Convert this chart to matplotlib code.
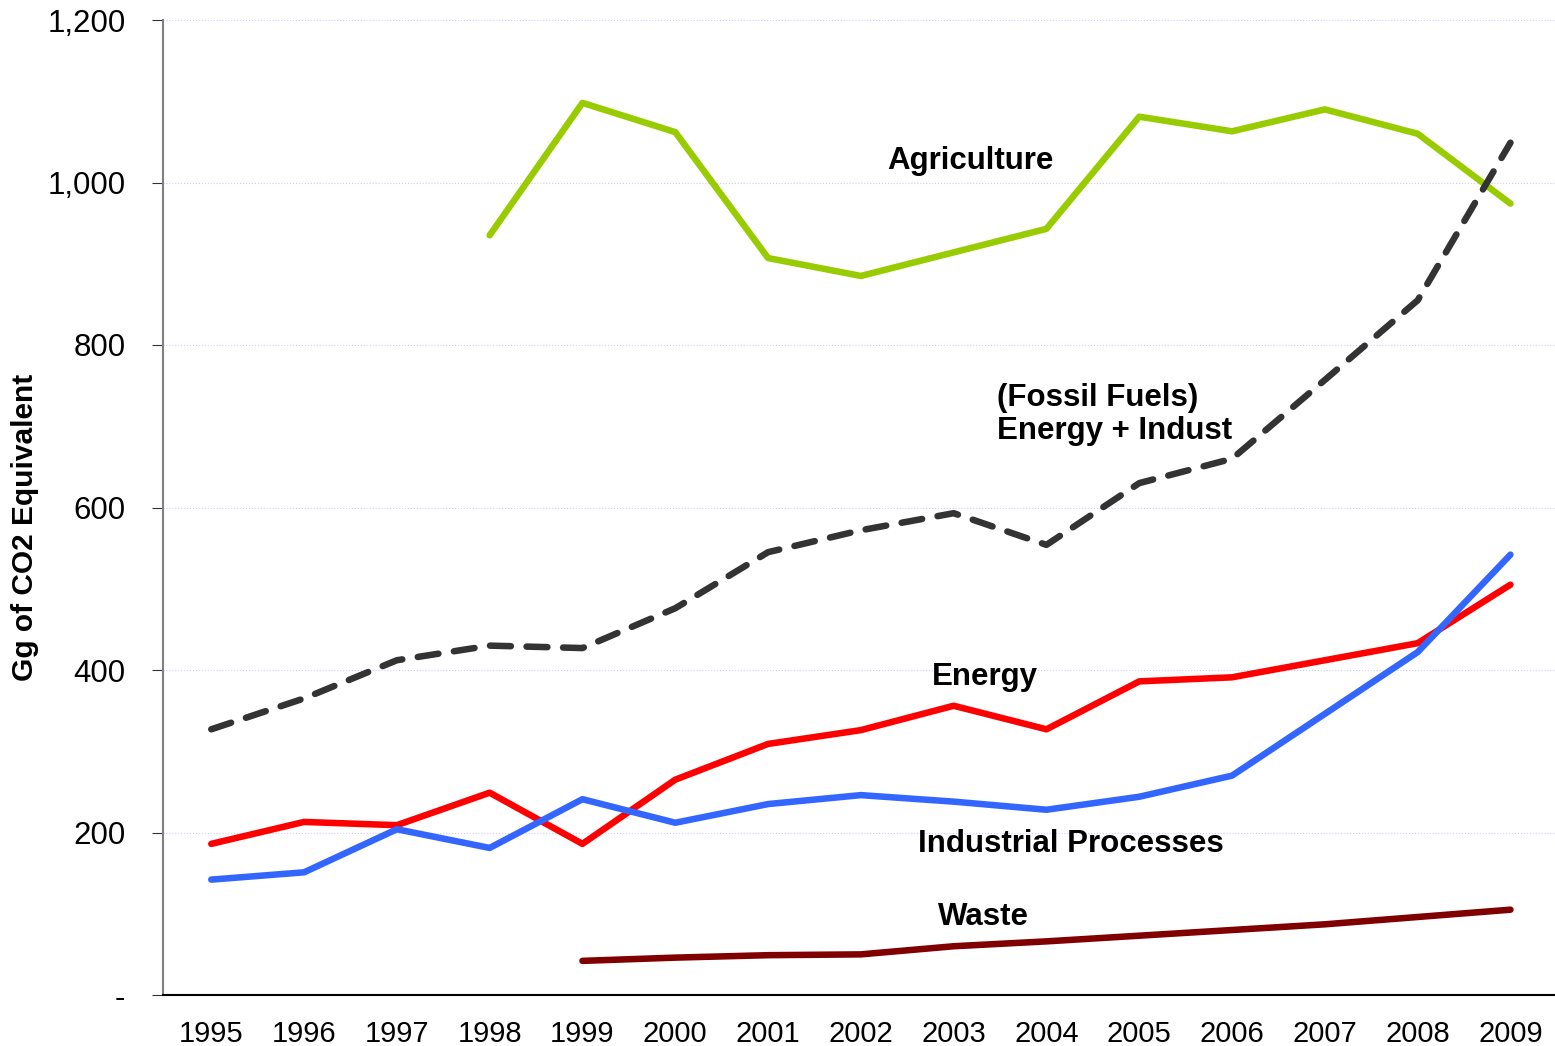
import numpy as np
import matplotlib.pyplot as plt
from matplotlib.ticker import FuncFormatter

plt.rcParams['font.family'] = ['Liberation Sans', 'DejaVu Sans']

years = list(range(1995, 2010))

agri_years = list(range(1998, 2010))
agriculture = [935, 1098, 1062, 907, 885, 914, 943, 1081, 1063, 1090, 1060, 974]

fossil = [327, 365, 412, 430, 427, 476, 545, 572, 593, 554, 630, 660, 757, 855, 1049]
energy = [186, 213, 209, 249, 186, 265, 309, 326, 356, 327, 386, 391, 412, 433, 505]
industrial = [142, 151, 204, 181, 241, 212, 235, 246, 238, 228, 244, 270, 346, 422, 542]

waste_years = list(range(1999, 2010))
waste = [42, 46, 49, 50, 60, 66, 73, 80, 87, 96, 105]

fig = plt.figure(figsize=(15.55, 10.46), dpi=100)
ax = fig.add_axes([163/1555, 1 - 995/1046, 1 - 163/1555, (995 - 20)/1046])

lw = 4.7
ax.plot(agri_years, agriculture, color='#99cc00', lw=lw, solid_capstyle='round', solid_joinstyle='round', zorder=3)
ax.plot(years, fossil, color='#333333', lw=lw, ls=(0, (3.2, 2.4)), dash_capstyle='round', zorder=3)
ax.plot(years, energy, color='#ff0000', lw=lw, solid_capstyle='round', solid_joinstyle='round', zorder=3)
ax.plot(years, industrial, color='#3366ff', lw=lw, solid_capstyle='round', solid_joinstyle='round', zorder=3)
ax.plot(waste_years, waste, color='#800000', lw=lw, solid_capstyle='round', solid_joinstyle='round', zorder=3)

ax.set_xlim(1994.48, 2009.48)
ax.set_ylim(0, 1200)
ax.set_xticks(years)
ax.set_yticks(np.arange(0, 1201, 200))
ax.yaxis.set_major_formatter(FuncFormatter(lambda v, p: '-' if v == 0 else f'{int(v):,}'))
ax.tick_params(axis='x', length=0, labelsize=21, pad=18)
ax.tick_params(axis='y', length=8, direction='out', labelsize=22.5, pad=19, color='#333333')

ax.grid(axis='y', color='#ccccff', ls=':', lw=0.8)
ax.set_axisbelow(True)
for s in ['top', 'right']:
    ax.spines[s].set_visible(False)
ax.spines['left'].set_color('#808080')
ax.spines['left'].set_linewidth(1.5)
ax.spines['bottom'].set_color('#000000')
ax.spines['bottom'].set_linewidth(1.5)

ax.set_ylabel('Gg of CO2 Equivalent', fontsize=21.5, fontweight='bold')
ax.yaxis.set_label_coords(-163/1555 + 25/1555, 0.48)

bold = dict(fontsize=22.5, fontweight='bold', ha='left', va='center')
ax.text(2002.28, 1026, 'Agriculture', **bold)
ax.text(2003.47, 714, '(Fossil Fuels)\nEnergy + Indust', linespacing=1.12, **bold)
ax.text(2002.77, 392, 'Energy', **bold)
ax.text(2002.62, 186, 'Industrial Processes', **bold)
ax.text(2002.83, 96, 'Waste', **bold)

fig.savefig('out.png', dpi=100)
